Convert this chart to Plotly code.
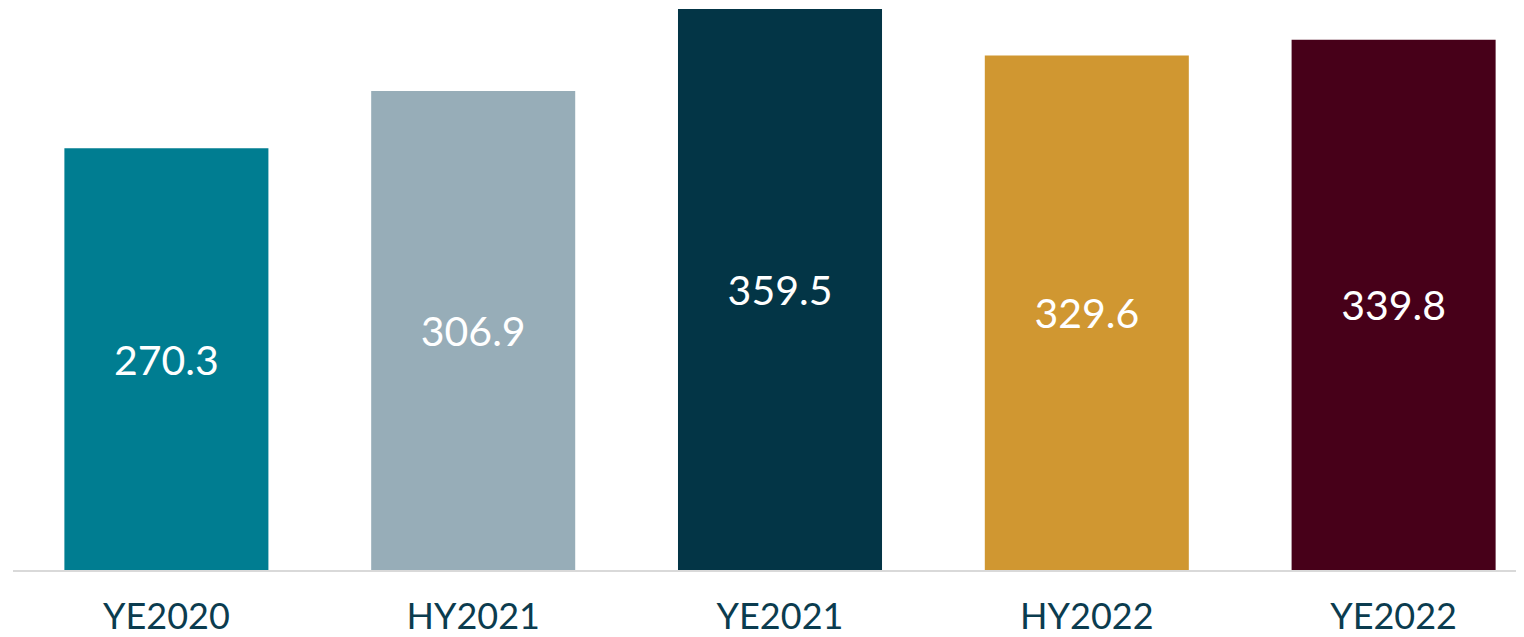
import plotly.graph_objects as go

categories = ["YE2020", "HY2021", "YE2021", "HY2022", "YE2022"]
values = [270.3, 306.9, 359.5, 329.6, 339.8]
value_labels = ["270.3", "306.9", "359.5", "329.6", "339.8"]
colors = ["#007D91", "#97ADB8", "#033546", "#D09731", "#470019"]

fig = go.Figure(go.Bar(
    x=categories, y=values, text=value_labels,
    marker=dict(color=colors, line=dict(width=0)),
    textposition="inside", insidetextanchor="middle",
    textfont=dict(family="Lato", size=41, color="white"),
    textangle=0, hoverinfo="skip",
))

fig.update_layout(
    width=1516, height=629,
    margin=dict(l=5, r=0, t=0, b=67),
    paper_bgcolor="white", plot_bgcolor="white",
    bargap=0.335, showlegend=False,
    uniformtext=dict(mode=False),
)
fig.update_xaxes(
    range=[-0.5, 4.425], showgrid=False, zeroline=False,
    showline=True, linecolor="#D9D9D9", linewidth=2,
    tickfont=dict(family="Lato", size=36, color="#0B3C4F"),
    ticks="", ticklabelstandoff=14, automargin=False,
)
fig.update_yaxes(range=[0, 360.1], visible=False)

fig.write_html("out.html")
